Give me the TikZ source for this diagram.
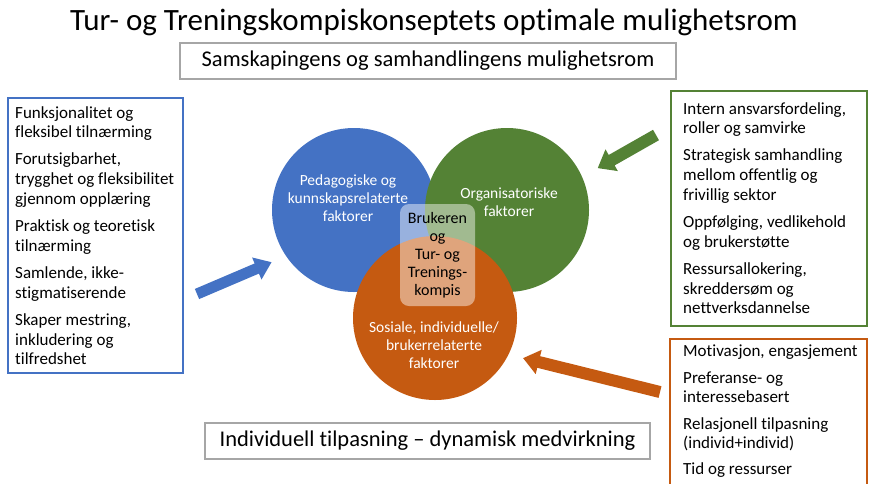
\documentclass[tikz,border=0pt]{standalone}
\usepackage{fontspec}
\setmainfont{Carlito}[Ligatures=CommonOff]
\definecolor{cblue}{HTML}{4472C4}
\definecolor{cgreen}{HTML}{548235}
\definecolor{corange}{HTML}{C55A11}
\definecolor{cgray}{HTML}{A6A6A6}
% block arrow: colour, tail point, angle, length, half shaft, half head, head length
\newcommand{\blockarr}[7]{%
  \pgfmathsetmacro{\arrbase}{#4-#7}%
  \fill[#1, shift={(#2)}, rotate=#3]
    (0,-#5) -- (\arrbase,-#5) -- (\arrbase,-#6) -- (#4,0)
    -- (\arrbase,#6) -- (\arrbase,#5) -- (0,#5) -- cycle;}
\begin{document}
\begin{tikzpicture}[x=1pt,y=-1pt,
  every node/.style={inner sep=0pt},
  circ/.style={circle, minimum size=164pt, inner sep=0pt},
  ctext/.style={text=white, align=center, font=\fontsize{15.5}{18}\selectfont},
  frame/.style={draw, line width=2pt, rectangle, inner sep=0pt, anchor=north west},
  boxtext/.style={anchor=north west, align=left, font=\fontsize{17}{19.7}\selectfont},
  titlebox/.style={draw=cgray, line width=2pt, minimum height=36pt, font=\fontsize{22.5}{26}\selectfont},
]
\useasboundingbox (0,0) rectangle (869,483);
\fill[white] (0,0) rectangle (869,483);

% title
\node[font=\fontsize{31}{36}\selectfont] (title) at (434,22) {Tur- og Treningskompiskonseptets optimale mulighetsrom};
\node[titlebox, minimum width=496pt] (top) at (428,61) {Samskapingens og samhandlingens mulighetsrom};
\node[titlebox, minimum width=445pt] (bottom) at (427.5,441) {Individuell tilpasning -- dynamisk medvirkning};

% circles
\node[circ, fill=cblue] (pc) at (354,210) {};
\node[circ, fill=cgreen] (oc) at (507,210) {};
\node[circ, fill=corange] (sc) at (435,318) {};
\node[ctext] (ptext) at (348,198) {Pedagogiske og\\kunnskapsrelaterte\\faktorer};
\node[ctext] (otext) at (509,202) {Organisatoriske\\faktorer};
\node[ctext] (stext) at (434,345) {Sosiale, individuelle/\\brukerrelaterte\\faktorer};

% core
\node[rectangle, rounded corners=9pt, fill=white, fill opacity=0.45, text opacity=1,
      minimum width=75pt, minimum height=102pt, align=center,
      font=\fontsize{16}{18}\selectfont] (core) at (437.5,255)
      {Brukeren\\og\\Tur- og\\Trenings-\\kompis};

% boxes
\node[frame, draw=cblue, minimum width=175pt, minimum height=275pt] (lbox) at (7,97) {};
\node[boxtext] (ltext) at (15,106) {Funksjonalitet og\\fleksibel tilnærming\\[7.5pt]
Forutsigbarhet,\\trygghet og fleksibilitet\\gjennom opplæring\\[7.5pt]
Praktisk og teoretisk\\tilnærming\\[7.5pt]
Samlende, ikke-\\stigmatiserende\\[7.5pt]
Skaper mestring,\\inkludering og\\tilfredshet};

\node[frame, draw=cgreen, minimum width=196pt, minimum height=235pt] (rbox) at (670,90) {};
\node[boxtext] (rtext) at (683,102) {Intern ansvarsfordeling,\\roller og samvirke\\[7.5pt]
Strategisk samhandling\\mellom offentlig og\\frivillig sektor\\[7.5pt]
Oppfølging, vedlikehold\\og brukerstøtte\\[7.5pt]
Ressursallokering,\\skreddersøm og\\nettverksdannelse};

\node[frame, draw=corange, minimum width=197pt, minimum height=160pt] (obox) at (669,338) {};
\node[boxtext] (otxt) at (683,345) {Motivasjon, engasjement\\[6.5pt]
Preferanse- og\\interessebasert\\[6.5pt]
Relasjonell tilpasning\\(individ+individ)\\[6.5pt]
Tid og ressurser};

% block arrows
\blockarr{cblue}{197,294}{23.1}{81}{5.5}{12}{16}
\blockarr{cgreen}{656,135}{209.6}{67}{6}{12.5}{16}
\blockarr{corange}{660,392}{166.1}{141}{6}{12.5}{16}
\end{tikzpicture}
\end{document}
